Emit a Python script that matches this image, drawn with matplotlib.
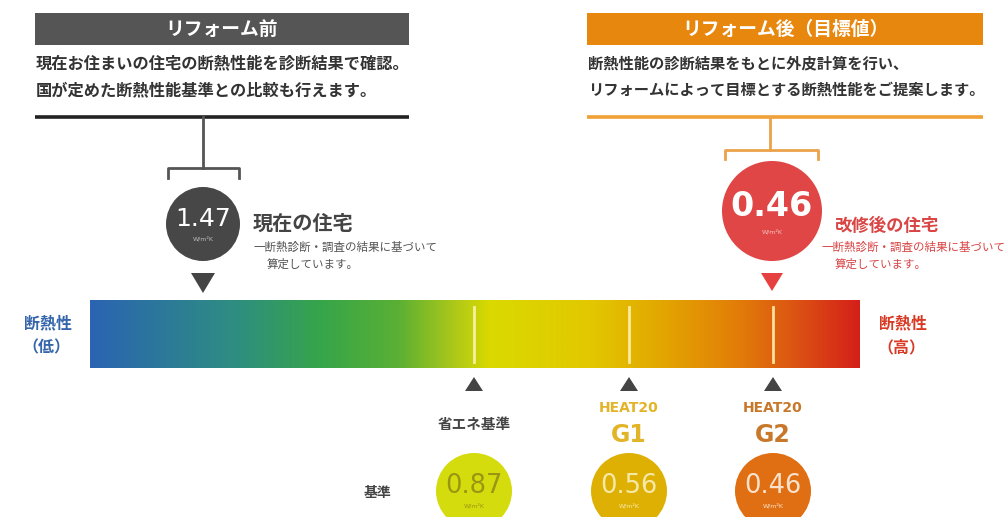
import numpy as np
import matplotlib
matplotlib.use("Agg")
import matplotlib.pyplot as plt
from matplotlib.patches import Circle, Rectangle, Polygon
from matplotlib.colors import LinearSegmentedColormap

plt.rcParams['font.family'] = ['Noto Sans CJK JP', 'DejaVu Sans']

# ---- data ----
before_title = "リフォーム前"
before_lines = ["現在お住まいの住宅の断熱性能を診断結果で確認。",
                "国が定めた断熱性能基準との比較も行えます。"]
after_title = "リフォーム後（目標値）"
after_lines = ["断熱性能の診断結果をもとに外皮計算を行い、",
               "リフォームによって目標とする断熱性能をご提案します。"]
current_value = 1.47
current_label = "現在の住宅"
target_value = 0.46
target_label = "改修後の住宅"
note_lines = ["一断熱診断・調査の結果に基づいて", "算定しています。"]
std_names = ["省エネ基準", "HEAT20\nG1", "HEAT20\nG2"]
std_values = [0.87, 0.56, 0.46]
unit = "W/m²K"

# ---- layout (pixel coordinates) ----
W, H = 1005, 517
bar_x0, bar_x1, bar_y0, bar_y1 = 90, 860, 300, 368
std_x = [474, 629, 773]
cur_x, tgt_x = 203, 772
std_circle_col = ["#d5dc0e", "#dfb004", "#df6f12"]
std_text_col = ["#9a9612", "#f6e9a8", "#fbe2cc"]
std_name_col = ["#444444", "#e2b428", "#c8782a"]
grad_stops = [(0.0, "#2a64b2"), (0.18, "#2e8c84"), (0.30, "#36a54a"),
              (0.40, "#5ab034"), (0.48, "#b4cb16"), (0.52, "#dad900"),
              (0.65, "#e2c800"), (0.74, "#e3a800"), (0.84, "#e27e08"),
              (0.91, "#dc5812"), (1.0, "#d52019")]

fig = plt.figure(figsize=(W / 100, H / 100), dpi=100)
ax = fig.add_axes([0, 0, 1, 1])
ax.set_xlim(0, W)
ax.set_ylim(H, 0)
ax.axis("off")

# ---- header panels ----
def header(x0, x1, color, line_color, title, lines, fs):
    ax.add_patch(Rectangle((x0, 13), x1 - x0, 32, color=color, lw=0))
    ax.text((x0 + x1) / 2, 29, title, color="white", fontsize=13.5,
            fontweight="bold", ha="center", va="center")
    for i, ln in enumerate(lines):
        ax.text(x0 + 1, 63 + i * 27, ln, color="#333333", fontsize=fs,
                fontweight="bold", ha="left", va="center")
    ax.plot([x0, x1], [117, 117], color=line_color, lw=2.6,
            solid_capstyle="butt")

header(35, 409, "#555555", "#222222", before_title, before_lines, 11.7)
header(587, 983, "#e8870e", "#f0a035", after_title, after_lines, 11)

# brackets
def bracket(xc, xl, xr, ytop, ybr, ytick, color):
    ax.plot([xc, xc], [ytop, ybr], color=color, lw=2)
    ax.plot([xl, xl, xr, xr], [ytick, ybr, ybr, ytick], color=color, lw=2)

bracket(cur_x, 168, 239, 117, 168, 178, "#555555")
bracket(tgt_x - 2, 725, 818, 117, 150, 159, "#eba24a")

# ---- value circles above bar ----
ax.add_patch(Circle((cur_x, 224), 37, color="#474747", lw=0))
ax.text(cur_x, 219, f"{current_value:.2f}", color="white", fontsize=18,
        ha="center", va="center", family="DejaVu Sans")
ax.text(cur_x, 239, unit, color="#bbbbbb", fontsize=4.5, ha="center",
        va="center", family="DejaVu Sans")
ax.add_patch(Polygon([(cur_x - 12, 273), (cur_x + 12, 273), (cur_x, 293)],
                     color="#444444", lw=0))
ax.text(253, 223, current_label, color="#444444", fontsize=14.5,
        fontweight="bold", ha="left", va="center")
ax.text(254, 247, note_lines[0], color="#555555", fontsize=8.3,
        ha="left", va="center")
ax.text(267, 264, note_lines[1], color="#555555", fontsize=8.3,
        ha="left", va="center")

ax.add_patch(Circle((tgt_x, 211), 50, color="#e04646", lw=0))
ax.text(tgt_x, 206, f"{target_value:.2f}", color="white", fontsize=24,
        fontweight="bold", ha="center", va="center", family="DejaVu Sans")
ax.text(tgt_x, 232, unit, color="#f4c0c0", fontsize=4.5, ha="center",
        va="center", family="DejaVu Sans")
ax.add_patch(Polygon([(tgt_x - 11, 273), (tgt_x + 11, 273), (tgt_x, 291)],
                     color="#e64040", lw=0))
ax.text(835, 226, target_label, color="#d94545", fontsize=12.5,
        fontweight="bold", ha="left", va="center")
ax.text(821, 247, note_lines[0], color="#d94545", fontsize=8.3,
        ha="left", va="center", clip_on=True)
ax.text(835, 264, note_lines[1], color="#d94545", fontsize=8.3,
        ha="left", va="center")

# ---- gradient bar ----
cmap = LinearSegmentedColormap.from_list("heat", grad_stops)
grad = np.linspace(0, 1, 512).reshape(1, -1)
ax.imshow(grad, cmap=cmap, extent=[bar_x0, bar_x1, bar_y1, bar_y0],
          aspect="auto", interpolation="bilinear", zorder=1)
for x in std_x:
    ax.plot([x, x], [307, 362], color="#fff6b8", lw=2, alpha=0.85, zorder=2)

ax.text(48, 323, "断熱性", color="#3565aa", fontsize=11.5, fontweight="bold",
        ha="center", va="center")
ax.text(46, 347, "（低）", color="#3565aa", fontsize=11.5, fontweight="bold",
        ha="center", va="center")
ax.text(903, 323, "断熱性", color="#d83a24", fontsize=11.5, fontweight="bold",
        ha="center", va="center")
ax.text(901, 347, "（高）", color="#d83a24", fontsize=11.5, fontweight="bold",
        ha="center", va="center")

# ---- standards below bar ----
for x, name, val, cc, tc, nc in zip(std_x, std_names, std_values,
                                    std_circle_col, std_text_col, std_name_col):
    ax.add_patch(Polygon([(x - 9, 391), (x + 9, 391), (x, 377)],
                         color="#444444", lw=0))
    if "\n" in name:
        top, big = name.split("\n")
        ax.text(x, 408, top, color=nc, fontsize=10, fontweight="bold",
                ha="center", va="center", family="DejaVu Sans")
        ax.text(x, 435, big, color=nc, fontsize=17, fontweight="bold",
                ha="center", va="center", family="DejaVu Sans")
    else:
        ax.text(x, 424, name, color=nc, fontsize=10.5, fontweight="bold",
                ha="center", va="center")
    ax.add_patch(Circle((x, 491), 38, color=cc, lw=0))
    ax.text(x, 486, f"{val:.2f}", color=tc, fontsize=18.5, ha="center",
            va="center", family="DejaVu Sans")
    ax.text(x, 506, unit, color=tc, fontsize=4.5, ha="center", va="center",
            family="DejaVu Sans")

ax.text(378, 493, "基準", color="#444444", fontsize=10, fontweight="bold",
        ha="center", va="center")

fig.savefig("out.png", dpi=100)
